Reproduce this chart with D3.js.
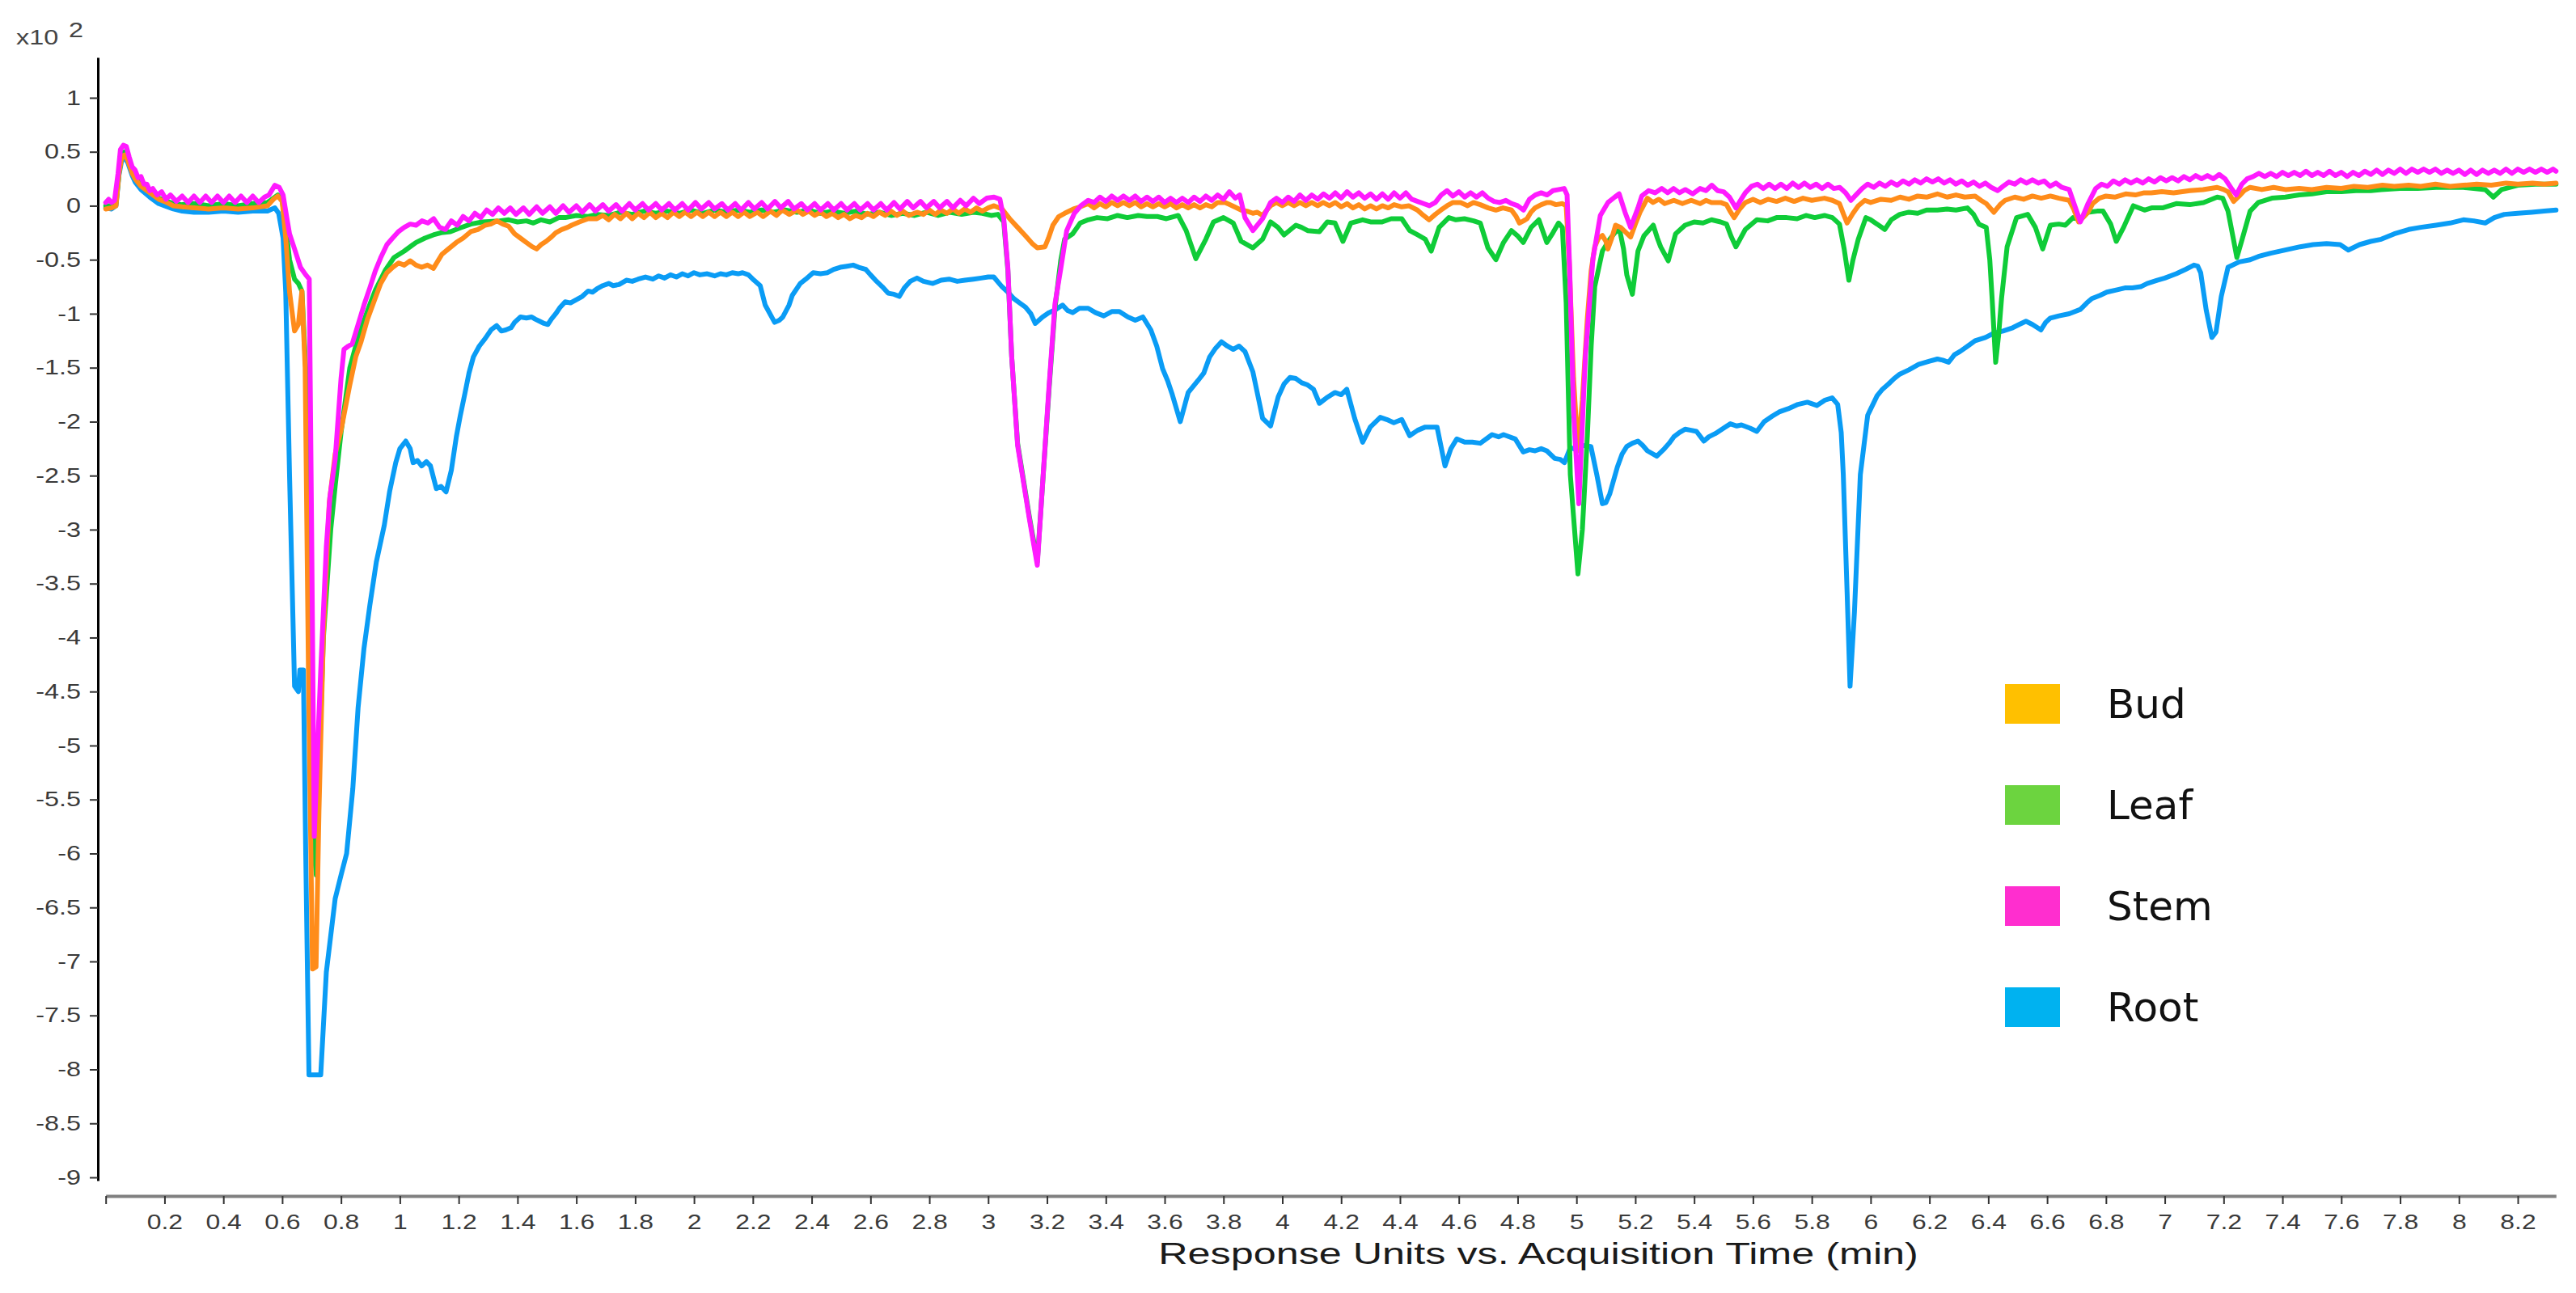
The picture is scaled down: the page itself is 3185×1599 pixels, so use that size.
<!DOCTYPE html>
<html><head><meta charset="utf-8">
<script src="https://cdn.jsdelivr.net/npm/d3@7"></script>
<style>html,body{margin:0;padding:0;background:#fff;} svg{display:block;}</style>
</head><body>
<svg id="chart" width="3185" height="1599"></svg>
<script>
// ---------- data (values in units of x10^2) ----------
const seriesNames = ["Bud", "Leaf", "Stem", "Root"];
const xTickValues = [0,0.2,0.4,0.6,0.8,1,1.2,1.4,1.6,1.8,2,2.2,2.4,2.6,2.8,3,3.2,3.4,3.6,3.8,4,4.2,4.4,4.6,4.8,5,5.2,5.4,5.6,5.8,6,6.2,6.4,6.6,6.8,7,7.2,7.4,7.6,7.8,8,8.2];
const yTickValues = [1,0.5,0,-0.5,-1,-1.5,-2,-2.5,-3,-3.5,-4,-4.5,-5,-5.5,-6,-6.5,-7,-7.5,-8,-8.5,-9];
const xTitle = "Response Units vs. Acquisition Time (min)";

const stemData = [[0,0.03],[0.01,0.06],[0.02,0.03],[0.03,0.05],[0.042,0.3],[0.05,0.52],[0.06,0.56],[0.07,0.55],[0.08,0.45],[0.09,0.36],[0.1,0.33],[0.11,0.26],[0.12,0.27],[0.13,0.2],[0.14,0.2],[0.15,0.14],[0.16,0.16],[0.175,0.1],[0.19,0.13],[0.205,0.06],[0.22,0.1],[0.24,0.04],[0.26,0.09],[0.28,0.03],[0.3,0.09],[0.32,0.03],[0.34,0.09],[0.36,0.03],[0.38,0.09],[0.4,0.03],[0.42,0.09],[0.44,0.03],[0.46,0.09],[0.48,0.03],[0.5,0.09],[0.52,0.03],[0.54,0.08],
[0.555,0.1],[0.575,0.19],[0.59,0.17],[0.603,0.1],[0.615,-0.1],[0.625,-0.26],[0.642,-0.4],[0.662,-0.57],[0.68,-0.64],[0.692,-0.68],[0.7,-3.0],[0.709,-5.84],[0.718,-5.2],[0.731,-4.3],[0.75,-3.16],[0.762,-2.7],[0.78,-2.35],[0.8,-1.6],[0.81,-1.33],[0.825,-1.3],[0.838,-1.28],[0.858,-1.1],[0.878,-0.92],[0.898,-0.76],[0.917,-0.6],[0.935,-0.48],[0.956,-0.36],[0.975,-0.3],[0.995,-0.24],[1.015,-0.2],[1.035,-0.17],[1.055,-0.18],[1.075,-0.14],[1.095,-0.16],[1.115,-0.12],[1.135,-0.2],[1.155,-0.22],[1.175,-0.14],[1.195,-0.18],[1.215,-0.1],[1.235,-0.14],[1.255,-0.07],[1.275,-0.11],[1.295,-0.04],[1.315,-0.08],[1.335,-0.02],[1.355,-0.07],
[1.375,-0.02],[1.395,-0.08],[1.42,-0.02],[1.44,-0.08],[1.465,-0.01],[1.485,-0.07],[1.51,-0.01],[1.53,-0.07],[1.555,0.0],[1.575,-0.06],[1.6,0.0],[1.62,-0.06],[1.645,0.01],[1.665,-0.05],[1.69,0.01],[1.71,-0.05],[1.735,0.01],[1.755,-0.05],[1.78,0.02],[1.8,-0.04],[1.825,0.02],[1.845,-0.04],[1.87,0.02],[1.89,-0.04],[1.915,0.02],[1.935,-0.04],[1.96,0.02],[1.98,-0.04],[2.005,0.03],[2.025,-0.03],[2.05,0.03],[2.07,-0.03],[2.095,0.02],[2.115,-0.04],[2.14,0.02],[2.16,-0.04],[2.185,0.03],[2.205,-0.03],[2.23,0.03],[2.25,-0.03],[2.275,0.04],[2.295,-0.02],[2.32,0.04],[2.34,-0.03],[2.365,0.02],[2.385,-0.04],[2.41,0.02],[2.43,-0.04],[2.455,0.02],[2.475,-0.04],[2.5,0.02],[2.52,-0.04],[2.545,0.02],[2.565,-0.04],[2.59,0.02],[2.61,-0.04],[2.635,0.02],[2.655,-0.04],[2.68,0.03],[2.7,-0.03],[2.725,0.04],[2.745,-0.02],[2.77,0.04],[2.79,-0.02],[2.815,0.04],[2.835,-0.02],[2.86,0.04],[2.88,-0.02],[2.905,0.05],[2.925,0.0],[2.95,0.07],[2.97,0.02],[2.995,0.07],
[3.02,0.08],[3.04,0.06],[3.053,-0.12],[3.067,-0.58],[3.08,-1.4],[3.1,-2.22],[3.14,-2.9],[3.167,-3.33],[3.187,-2.49],[3.207,-1.67],[3.227,-0.91],[3.247,-0.58],[3.267,-0.23],[3.293,-0.07],[3.315,0.0],[3.34,0.05],[3.36,0.03],[3.38,0.08],[3.4,0.04],[3.42,0.09],[3.44,0.05],[3.46,0.09],[3.48,0.05],[3.5,0.09],[3.52,0.04],[3.54,0.08],[3.56,0.04],[3.58,0.08],[3.6,0.03],[3.62,0.07],[3.64,0.03],[3.66,0.07],[3.68,0.03],[3.7,0.08],[3.72,0.04],[3.74,0.09],[3.76,0.05],[3.78,0.1],[3.8,0.06],[3.82,0.13],[3.84,0.07],[3.855,0.1],[3.873,-0.11],[3.9,-0.23],[3.933,-0.12],[3.96,0.03],
[3.98,0.07],[4.0,0.03],[4.02,0.08],[4.04,0.04],[4.06,0.1],[4.08,0.05],[4.1,0.1],[4.12,0.06],[4.14,0.11],[4.16,0.07],[4.18,0.12],[4.2,0.07],[4.22,0.13],[4.24,0.08],[4.26,0.12],[4.28,0.07],[4.3,0.11],[4.32,0.06],[4.34,0.11],[4.36,0.06],[4.38,0.12],[4.4,0.07],[4.42,0.12],[4.44,0.06],[4.46,0.04],[4.48,0.02],[4.5,0.0],[4.52,0.03],[4.54,0.1],[4.56,0.14],[4.58,0.09],[4.6,0.13],[4.62,0.08],[4.64,0.12],[4.66,0.08],[4.68,0.12],[4.7,0.07],[4.72,0.04],[4.74,0.03],[4.76,0.05],[4.78,0.02],[4.8,0.0],[4.82,-0.04],[4.84,0.06],[4.86,0.1],[4.88,0.12],[4.9,0.1],[4.92,0.14],[4.94,0.15],[4.958,0.16],
[4.968,0.1],[4.977,-0.6],[4.99,-1.9],[5.008,-2.76],[5.03,-1.4],[5.056,-0.49],[5.081,-0.09],[5.107,0.03],[5.13,0.08],[5.145,0.11],[5.165,-0.06],[5.184,-0.2],[5.209,-0.02],[5.222,0.09],[5.245,0.14],[5.267,0.12],[5.29,0.16],[5.31,0.12],[5.33,0.16],[5.35,0.12],[5.37,0.15],[5.395,0.11],[5.42,0.16],[5.44,0.14],[5.46,0.19],[5.48,0.14],[5.5,0.13],[5.52,0.08],[5.542,-0.02],[5.56,0.06],[5.574,0.12],[5.595,0.18],[5.615,0.2],[5.635,0.16],[5.655,0.2],[5.675,0.16],[5.695,0.2],[5.715,0.16],[5.735,0.21],[5.755,0.17],[5.775,0.21],[5.795,0.17],[5.815,0.2],[5.835,0.16],[5.855,0.2],[5.875,0.16],[5.895,0.17],[5.915,0.12],[5.933,0.05],[5.95,0.1],[5.971,0.16],[5.99,0.2],[6.01,0.17],[6.03,0.21],[6.05,0.18],[6.07,0.22],[6.09,0.19],[6.11,0.23],[6.13,0.2],[6.15,0.24],[6.17,0.21],[6.19,0.25],[6.21,0.22],[6.23,0.25],[6.25,0.21],[6.27,0.24],[6.29,0.2],[6.31,0.23],[6.33,0.19],[6.35,0.22],[6.37,0.18],[6.39,0.21],[6.41,0.17],[6.432,0.14],[6.45,0.18],[6.47,0.22],[6.49,0.2],[6.51,0.24],[6.53,0.21],[6.55,0.24],[6.57,0.21],[6.59,0.23],[6.61,0.18],[6.63,0.21],[6.65,0.17],[6.675,0.15],[6.694,0.0],[6.713,-0.15],[6.739,0.02],[6.765,0.16],[6.785,0.2],[6.805,0.18],[6.825,0.23],[6.845,0.2],[6.865,0.24],[6.885,0.21],[6.905,0.24],
[6.925,0.21],[6.945,0.25],[6.965,0.22],[6.985,0.26],[7.005,0.23],[7.025,0.26],[7.045,0.23],[7.065,0.27],[7.085,0.24],[7.105,0.28],[7.125,0.25],[7.145,0.28],[7.165,0.25],[7.185,0.29],[7.205,0.25],[7.229,0.15],[7.243,0.1],[7.262,0.2],[7.28,0.25],[7.3,0.27],[7.32,0.3],[7.34,0.27],[7.36,0.3],[7.38,0.27],[7.4,0.31],[7.42,0.28],[7.44,0.31],[7.46,0.28],[7.48,0.32],[7.5,0.28],[7.52,0.31],[7.54,0.28],[7.56,0.32],[7.58,0.28],[7.6,0.31],[7.62,0.27],[7.64,0.31],[7.66,0.28],[7.68,0.32],[7.7,0.29],[7.72,0.33],[7.74,0.29],[7.76,0.33],[7.78,0.3],[7.8,0.34],[7.82,0.3],[7.84,0.34],[7.86,0.31],[7.88,0.34],[7.9,0.31],[7.92,0.34],[7.94,0.3],[7.96,0.33],[7.98,0.3],[8.0,0.33],[8.02,0.29],[8.04,0.33],[8.06,0.29],[8.08,0.33],[8.1,0.3],[8.12,0.33],[8.14,0.3],[8.16,0.34],[8.18,0.3],[8.2,0.34],[8.22,0.31],[8.24,0.34],[8.26,0.31],[8.28,0.34],[8.3,0.31],[8.32,0.34],[8.33,0.32]];

const budData = [[0,-0.03],[0.02,-0.02],[0.035,0.0],[0.045,0.3],[0.055,0.46],[0.065,0.47],[0.075,0.42],[0.09,0.3],[0.1,0.25],[0.12,0.18],[0.15,0.12],[0.18,0.06],[0.2,0.04],[0.23,0.0],[0.26,-0.01],[0.3,-0.02],[0.35,-0.03],[0.4,-0.02],[0.45,-0.03],[0.5,-0.02],[0.55,0.0],[0.57,0.06],[0.585,0.09],[0.6,0.04],[0.612,-0.3],[0.625,-0.8],[0.642,-1.16],[0.655,-1.1],[0.667,-0.79],[0.678,-1.5],[0.69,-4.5],[0.703,-7.07],[0.715,-7.05],[0.725,-5.6],[0.74,-3.98],[0.76,-2.75],[0.78,-2.3],[0.8,-2.08],[0.829,-1.67],[0.85,-1.4],[0.868,-1.26],[0.89,-1.05],[0.917,-0.85],[0.935,-0.72],[0.956,-0.62],[0.976,-0.57],[0.996,-0.53],[1.015,-0.55],[1.035,-0.51],[1.055,-0.55],[1.074,-0.57],[1.094,-0.55],[1.114,-0.58],[1.143,-0.45],[1.165,-0.4],[1.192,-0.34],[1.215,-0.3],[1.241,-0.24],[1.265,-0.22],[1.29,-0.18],[1.309,-0.17],[1.33,-0.14],[1.35,-0.17],[1.37,-0.19],[1.39,-0.26],[1.41,-0.3],[1.43,-0.34],[1.45,-0.38],[1.465,-0.4],[1.48,-0.36],[1.497,-0.33],[1.515,-0.29],[1.53,-0.25],[1.55,-0.22],[1.57,-0.2],[1.584,-0.18],[1.61,-0.15],[1.64,-0.12],[1.67,-0.12],[1.69,-0.09],[1.71,-0.13],[1.73,-0.08],[1.75,-0.12],[1.77,-0.07],[1.79,-0.12],[1.81,-0.07],[1.83,-0.11],[1.85,-0.06],[1.87,-0.11],[1.89,-0.07],[1.91,-0.11],[1.93,-0.06],[1.95,-0.1],[1.97,-0.06],[1.99,-0.1],[2.01,-0.06],[2.03,-0.1],[2.05,-0.06],[2.07,-0.1],[2.09,-0.06],[2.11,-0.1],[2.13,-0.06],[2.15,-0.1],[2.17,-0.06],[2.19,-0.1],[2.215,-0.06],[2.235,-0.1],[2.26,-0.05],[2.28,-0.09],[2.3,-0.04],[2.324,-0.08],[2.35,-0.04],[2.37,-0.08],[2.39,-0.05],[2.41,-0.09],[2.43,-0.06],[2.45,-0.1],[2.47,-0.07],[2.49,-0.11],[2.51,-0.08],[2.53,-0.12],[2.55,-0.09],[2.57,-0.11],[2.59,-0.07],[2.61,-0.1],[2.63,-0.06],[2.65,-0.09],[2.67,-0.05],[2.69,-0.09],[2.71,-0.05],[2.73,-0.09],[2.758,-0.06],[2.78,-0.08],[2.8,-0.04],[2.82,-0.08],[2.84,-0.04],[2.86,-0.07],[2.88,-0.03],[2.9,-0.07],[2.92,-0.03],[2.94,-0.06],[2.96,-0.02],[2.98,-0.05],
[3.0,-0.02],[3.02,0.0],[3.047,-0.03],[3.073,-0.12],[3.1,-0.2],[3.127,-0.28],[3.15,-0.35],[3.167,-0.39],[3.193,-0.38],[3.205,-0.3],[3.22,-0.18],[3.24,-0.1],[3.26,-0.07],[3.29,-0.03],[3.313,-0.01],[3.34,0.02],[3.36,-0.02],[3.38,0.02],[3.4,-0.01],[3.42,0.03],[3.44,0.0],[3.46,0.03],[3.48,0.0],[3.5,0.03],[3.52,-0.01],[3.54,0.02],[3.56,-0.01],[3.58,0.02],[3.6,-0.01],[3.62,0.02],[3.64,-0.02],[3.66,0.01],[3.68,-0.02],[3.7,0.01],[3.72,-0.02],[3.74,0.01],[3.76,-0.01],[3.78,0.03],[3.806,0.03],[3.83,0.0],[3.86,-0.04],[3.88,-0.05],[3.9,-0.07],[3.915,-0.06],[3.933,-0.09],[3.947,-0.04],[3.96,0.0],[3.98,0.03],[4.0,0.0],[4.02,0.03],[4.04,0.0],[4.06,0.03],[4.08,0.0],[4.1,0.03],[4.12,0.0],[4.139,0.03],[4.16,0.0],[4.18,0.03],[4.2,-0.01],[4.22,0.02],[4.24,-0.02],[4.26,0.01],[4.28,-0.03],[4.3,0.0],[4.32,-0.03],[4.34,0.0],[4.36,-0.02],[4.38,0.01],[4.406,-0.01],[4.43,0.0],[4.459,-0.04],[4.48,-0.09],[4.499,-0.13],[4.52,-0.08],[4.539,-0.04],[4.56,0.0],[4.58,0.03],[4.606,0.03],[4.63,0.0],[4.65,0.03],[4.673,0.01],[4.7,-0.02],[4.726,-0.04],[4.75,-0.02],[4.779,-0.04],[4.795,-0.1],[4.806,-0.16],[4.82,-0.14],[4.832,-0.12],[4.845,-0.06],[4.859,-0.02],[4.88,0.01],[4.9,0.03],[4.912,0.03],[4.93,0.01],[4.952,0.02],
[4.965,0.0],[4.975,-0.5],[4.99,-1.6],[5.005,-2.27],[5.02,-1.8],[5.037,-1.04],[5.05,-0.6],[5.062,-0.38],[5.075,-0.3],[5.088,-0.275],[5.1,-0.33],[5.107,-0.4],[5.12,-0.3],[5.133,-0.18],[5.15,-0.2],[5.165,-0.24],[5.184,-0.29],[5.2,-0.17],[5.216,-0.06],[5.241,0.07],[5.26,0.03],[5.28,0.06],[5.3,0.02],[5.331,0.05],[5.36,0.02],[5.39,0.05],[5.42,0.02],[5.44,0.05],[5.459,0.03],[5.49,0.03],[5.51,0.01],[5.522,-0.05],[5.536,-0.11],[5.555,-0.03],[5.574,0.03],[5.6,0.06],[5.625,0.03],[5.651,0.06],[5.68,0.04],[5.71,0.07],[5.74,0.04],[5.77,0.07],[5.8,0.05],[5.843,0.07],[5.87,0.05],[5.894,0.02],[5.908,-0.08],[5.92,-0.16],[5.94,-0.07],[5.958,0.0],[5.98,0.05],[6.0,0.03],[6.035,0.06],[6.07,0.05],[6.1,0.08],[6.13,0.06],[6.16,0.09],[6.19,0.08],[6.227,0.11],[6.26,0.08],[6.29,0.1],[6.32,0.08],[6.355,0.09],[6.375,0.05],[6.393,0.02],[6.419,-0.06],[6.44,0.01],[6.457,0.05],[6.49,0.08],[6.52,0.06],[6.55,0.09],[6.58,0.07],[6.611,0.09],[6.64,0.07],[6.675,0.05],[6.69,-0.03],[6.707,-0.15],[6.725,-0.1],[6.739,-0.06],[6.755,0.02],[6.777,0.07],[6.8,0.09],[6.83,0.08],[6.867,0.11],[6.9,0.1],[6.93,0.12],[6.954,0.12],
[6.99,0.13],[7.03,0.12],[7.085,0.14],[7.13,0.15],[7.178,0.17],[7.2,0.15],[7.215,0.13],[7.234,0.04],[7.253,0.09],[7.27,0.14],[7.29,0.17],[7.33,0.15],[7.37,0.17],[7.41,0.15],[7.457,0.16],[7.5,0.15],[7.55,0.17],[7.6,0.16],[7.643,0.18],[7.69,0.17],[7.74,0.19],[7.78,0.18],[7.829,0.19],[7.87,0.18],[7.92,0.2],[7.97,0.18],[8.015,0.19],[8.06,0.2],[8.11,0.19],[8.16,0.21],[8.2,0.2],[8.25,0.21],[8.29,0.2],[8.33,0.21]];

const leafData = [[0,0.0],[0.02,0.0],[0.035,0.02],[0.045,0.3],[0.055,0.48],[0.065,0.5],[0.075,0.45],[0.09,0.32],[0.1,0.27],[0.12,0.2],[0.15,0.13],[0.18,0.07],[0.2,0.05],[0.23,0.02],[0.26,0.01],[0.3,0.02],[0.35,0.0],[0.4,0.02],[0.45,0.0],[0.5,0.02],[0.55,0.03],[0.57,0.07],[0.585,0.1],[0.6,0.05],[0.612,-0.2],[0.625,-0.5],[0.642,-0.68],[0.655,-0.72],[0.667,-0.79],[0.68,-1.5],[0.692,-4.0],[0.706,-5.9],[0.716,-6.2],[0.728,-5.0],[0.74,-4.0],[0.75,-3.6],[0.765,-3.0],[0.78,-2.6],[0.8,-2.1],[0.83,-1.5],[0.86,-1.2],[0.9,-0.9],[0.917,-0.78],[0.95,-0.6],[0.98,-0.48],[1.015,-0.42],[1.055,-0.34],[1.085,-0.3],[1.114,-0.27],[1.14,-0.25],[1.172,-0.24],[1.2,-0.21],[1.241,-0.17],[1.28,-0.15],[1.339,-0.14],[1.37,-0.13],[1.4,-0.15],[1.43,-0.14],[1.454,-0.16],[1.48,-0.13],[1.51,-0.15],[1.54,-0.11],[1.562,-0.11],[1.6,-0.09],[1.64,-0.1],[1.671,-0.08],[1.71,-0.09],[1.75,-0.06],[1.79,-0.08],[1.83,-0.05],[1.87,-0.07],[1.91,-0.05],[1.95,-0.07],[1.99,-0.04],[2.03,-0.07],[2.07,-0.04],[2.11,-0.06],[2.15,-0.04],[2.19,-0.06],[2.23,-0.04],[2.27,-0.06],[2.31,-0.04],[2.35,-0.06],[2.39,-0.04],[2.43,-0.07],[2.47,-0.05],[2.51,-0.07],[2.55,-0.05],[2.59,-0.08],[2.63,-0.06],[2.67,-0.09],[2.71,-0.07],[2.75,-0.09],[2.79,-0.06],[2.83,-0.09],[2.87,-0.06],[2.91,-0.08],[2.95,-0.06],
[2.98,-0.07],[3.01,-0.09],[3.033,-0.08],[3.053,-0.15],[3.067,-0.6],[3.08,-1.4],[3.1,-2.2],[3.14,-2.88],[3.167,-3.3],[3.187,-2.5],[3.207,-1.7],[3.227,-0.95],[3.247,-0.5],[3.26,-0.31],[3.287,-0.26],[3.313,-0.16],[3.34,-0.13],[3.37,-0.11],[3.406,-0.12],[3.44,-0.09],[3.473,-0.11],[3.51,-0.09],[3.54,-0.1],[3.575,-0.1],[3.606,-0.12],[3.646,-0.09],[3.673,-0.23],[3.706,-0.49],[3.74,-0.31],[3.766,-0.15],[3.8,-0.11],[3.833,-0.16],[3.86,-0.33],[3.9,-0.39],[3.933,-0.31],[3.96,-0.15],[3.985,-0.2],[4.006,-0.27],[4.046,-0.18],[4.065,-0.2],[4.086,-0.23],[4.126,-0.24],[4.153,-0.15],[4.179,-0.16],[4.206,-0.33],[4.233,-0.16],[4.273,-0.13],[4.3,-0.15],[4.339,-0.15],[4.37,-0.12],[4.406,-0.12],[4.433,-0.23],[4.46,-0.27],[4.486,-0.31],[4.506,-0.42],[4.533,-0.2],[4.566,-0.11],[4.59,-0.13],[4.619,-0.12],[4.65,-0.14],[4.673,-0.16],[4.699,-0.39],[4.726,-0.5],[4.752,-0.34],[4.779,-0.23],[4.8,-0.28],[4.819,-0.34],[4.846,-0.2],[4.872,-0.13],[4.899,-0.34],[4.92,-0.25],[4.939,-0.16],[4.952,-0.2],
[4.965,-0.9],[4.979,-2.49],[5.005,-3.41],[5.02,-3.0],[5.037,-2.13],[5.05,-1.3],[5.062,-0.75],[5.088,-0.42],[5.113,-0.31],[5.145,-0.2],[5.16,-0.4],[5.171,-0.64],[5.19,-0.82],[5.209,-0.42],[5.229,-0.28],[5.261,-0.18],[5.275,-0.3],[5.286,-0.38],[5.312,-0.51],[5.337,-0.26],[5.369,-0.18],[5.4,-0.15],[5.43,-0.16],[5.459,-0.13],[5.49,-0.15],[5.51,-0.17],[5.525,-0.28],[5.542,-0.38],[5.574,-0.22],[5.613,-0.13],[5.65,-0.14],[5.68,-0.11],[5.715,-0.11],[5.75,-0.12],[5.78,-0.09],[5.81,-0.11],[5.843,-0.09],[5.87,-0.11],[5.894,-0.17],[5.91,-0.4],[5.926,-0.69],[5.94,-0.5],[5.958,-0.31],[5.984,-0.11],[6.0,-0.13],[6.022,-0.17],[6.048,-0.22],[6.07,-0.13],[6.099,-0.08],[6.13,-0.06],[6.16,-0.07],[6.19,-0.04],[6.227,-0.04],[6.26,-0.03],[6.29,-0.04],[6.329,-0.02],[6.35,-0.08],[6.368,-0.17],[6.393,-0.2],[6.405,-0.5],[6.413,-0.86],[6.425,-1.45],[6.435,-1.2],[6.445,-0.86],[6.464,-0.38],[6.496,-0.11],[6.534,-0.08],[6.56,-0.2],[6.585,-0.4],[6.611,-0.18],[6.64,-0.17],[6.662,-0.18],[6.688,-0.11],[6.713,-0.13],[6.739,-0.06],[6.77,-0.05],[6.79,-0.05],[6.816,-0.17],[6.835,-0.33],[6.86,-0.2],[6.893,0.0],[6.931,-0.04],
[6.955,-0.02],[6.992,-0.02],[7.039,0.02],[7.085,0.01],[7.132,0.03],[7.178,0.08],[7.197,0.07],[7.215,-0.05],[7.234,-0.32],[7.245,-0.48],[7.262,-0.32],[7.29,-0.05],[7.318,0.03],[7.364,0.07],[7.41,0.08],[7.457,0.1],[7.5,0.11],[7.55,0.13],[7.6,0.13],[7.65,0.14],[7.7,0.14],[7.736,0.15],[7.8,0.16],[7.86,0.16],[7.922,0.17],[7.97,0.17],[8.015,0.17],[8.05,0.16],[8.089,0.15],[8.117,0.08],[8.145,0.15],[8.2,0.19],[8.26,0.2],[8.33,0.2]];

const rootData = [[0,-0.02],[0.02,-0.03],[0.035,0.0],[0.045,0.28],[0.055,0.43],[0.065,0.44],[0.075,0.4],[0.09,0.28],[0.1,0.22],[0.12,0.15],[0.15,0.08],[0.18,0.02],[0.2,0.0],[0.23,-0.03],[0.26,-0.05],[0.3,-0.06],[0.35,-0.06],[0.4,-0.05],[0.45,-0.06],[0.5,-0.05],[0.55,-0.05],[0.575,-0.02],[0.588,-0.07],[0.603,-0.3],[0.612,-0.8],[0.625,-2.5],[0.642,-4.45],[0.655,-4.5],[0.66,-4.3],[0.672,-4.3],[0.68,-6.0],[0.691,-8.05],[0.731,-8.05],[0.75,-7.1],[0.78,-6.42],[0.8,-6.2],[0.819,-6.0],[0.84,-5.4],[0.858,-4.65],[0.878,-4.1],[0.898,-3.7],[0.92,-3.3],[0.947,-2.96],[0.965,-2.65],[0.986,-2.38],[1.0,-2.25],[1.02,-2.18],[1.035,-2.25],[1.045,-2.38],[1.06,-2.36],[1.074,-2.41],[1.09,-2.37],[1.104,-2.41],[1.124,-2.62],[1.14,-2.6],[1.157,-2.65],[1.175,-2.45],[1.192,-2.14],[1.205,-1.95],[1.221,-1.74],[1.235,-1.55],[1.25,-1.4],[1.27,-1.3],[1.29,-1.23],[1.31,-1.15],[1.329,-1.11],[1.345,-1.16],[1.36,-1.15],[1.378,-1.13],[1.39,-1.08],[1.41,-1.03],[1.43,-1.04],[1.448,-1.03],[1.46,-1.05],[1.475,-1.07],[1.49,-1.09],[1.503,-1.1],[1.515,-1.05],[1.53,-1.0],[1.545,-0.94],[1.562,-0.89],[1.58,-0.9],[1.6,-0.87],[1.62,-0.84],[1.64,-0.79],[1.655,-0.8],[1.67,-0.77],[1.69,-0.74],[1.71,-0.72],[1.725,-0.74],[1.745,-0.73],[1.77,-0.69],[1.79,-0.7],[1.81,-0.68],[1.835,-0.66],[1.86,-0.68],[1.88,-0.65],[1.9,-0.67],[1.92,-0.64],[1.94,-0.66],[1.96,-0.63],[1.98,-0.65],[2.0,-0.62],[2.02,-0.64],[2.045,-0.63],[2.07,-0.65],[2.09,-0.63],[2.11,-0.64],[2.13,-0.62],[2.15,-0.63],[2.165,-0.62],[2.185,-0.64],
[2.204,-0.69],[2.225,-0.74],[2.242,-0.92],[2.274,-1.08],[2.29,-1.06],[2.302,-1.03],[2.323,-0.92],[2.334,-0.83],[2.361,-0.72],[2.38,-0.68],[2.405,-0.62],[2.43,-0.63],[2.454,-0.62],[2.475,-0.59],[2.497,-0.57],[2.52,-0.56],[2.541,-0.55],[2.56,-0.57],[2.584,-0.59],[2.6,-0.64],[2.617,-0.69],[2.64,-0.75],[2.66,-0.81],[2.68,-0.82],[2.698,-0.84],[2.715,-0.76],[2.735,-0.7],[2.758,-0.67],[2.78,-0.7],[2.812,-0.72],[2.84,-0.69],[2.867,-0.68],[2.895,-0.7],[2.921,-0.69],[2.95,-0.68],[2.976,-0.67],[3.0,-0.66],[3.019,-0.66],
[3.047,-0.75],[3.067,-0.8],[3.087,-0.86],[3.107,-0.9],[3.127,-0.94],[3.145,-1.0],[3.16,-1.09],[3.185,-1.03],[3.207,-0.99],[3.23,-0.96],[3.253,-0.92],[3.27,-0.97],[3.287,-0.99],[3.31,-0.95],[3.34,-0.95],[3.365,-0.99],[3.393,-1.02],[3.42,-0.98],[3.446,-0.98],[3.475,-1.03],[3.5,-1.06],[3.526,-1.03],[3.553,-1.15],[3.573,-1.3],[3.593,-1.51],[3.61,-1.62],[3.626,-1.75],[3.653,-2.0],[3.668,-1.85],[3.68,-1.73],[3.713,-1.62],[3.733,-1.55],[3.753,-1.4],[3.773,-1.32],[3.793,-1.26],[3.813,-1.3],[3.833,-1.33],[3.853,-1.3],[3.873,-1.35],[3.9,-1.54],[3.92,-1.8],[3.933,-1.97],[3.96,-2.04],[3.986,-1.77],[4.006,-1.65],[4.026,-1.59],[4.046,-1.6],[4.066,-1.64],[4.086,-1.66],[4.106,-1.7],[4.126,-1.83],[4.15,-1.78],[4.179,-1.73],[4.2,-1.75],[4.219,-1.7],[4.246,-1.97],[4.273,-2.19],[4.299,-2.05],[4.333,-1.96],[4.355,-1.98],[4.379,-2.01],[4.406,-1.98],[4.433,-2.13],[4.46,-2.08],[4.486,-2.05],[4.526,-2.05],[4.553,-2.41],[4.573,-2.25],[4.593,-2.16],[4.62,-2.19],[4.646,-2.19],[4.673,-2.2],[4.713,-2.12],[4.735,-2.14],[4.752,-2.12],[4.792,-2.16],[4.819,-2.28],[4.84,-2.26],[4.859,-2.27],[4.88,-2.25],[4.899,-2.27],[4.926,-2.34],[4.945,-2.35],[4.959,-2.38],[4.979,-2.24],
[5.0,-2.26],[5.02,-2.22],[5.049,-2.23],[5.069,-2.49],[5.088,-2.76],[5.1,-2.75],[5.113,-2.67],[5.139,-2.42],[5.155,-2.3],[5.171,-2.23],[5.19,-2.2],[5.209,-2.18],[5.225,-2.22],[5.241,-2.27],[5.273,-2.32],[5.299,-2.25],[5.315,-2.2],[5.331,-2.14],[5.35,-2.1],[5.369,-2.07],[5.39,-2.08],[5.408,-2.09],[5.433,-2.18],[5.45,-2.14],[5.472,-2.11],[5.5,-2.06],[5.523,-2.02],[5.545,-2.04],[5.561,-2.03],[5.59,-2.06],[5.613,-2.09],[5.638,-2.0],[5.665,-1.95],[5.689,-1.91],[5.72,-1.88],[5.753,-1.84],[5.785,-1.82],[5.817,-1.85],[5.845,-1.8],[5.869,-1.78],[5.888,-1.84],[5.9,-2.1],[5.907,-2.49],[5.92,-3.58],[5.93,-4.45],[5.945,-3.76],[5.965,-2.49],[5.99,-1.94],[6.022,-1.76],[6.04,-1.7],[6.061,-1.65],[6.08,-1.6],[6.099,-1.56],[6.13,-1.52],[6.163,-1.47],[6.2,-1.44],[6.227,-1.42],[6.245,-1.43],[6.265,-1.45],[6.285,-1.38],[6.304,-1.35],[6.33,-1.3],[6.355,-1.25],[6.39,-1.22],[6.419,-1.18],[6.45,-1.16],[6.483,-1.13],[6.505,-1.1],[6.528,-1.07],[6.55,-1.1],[6.579,-1.15],[6.595,-1.08],[6.611,-1.04],[6.64,-1.02],[6.675,-1.0],[6.713,-0.96],[6.735,-0.9],[6.752,-0.86],[6.78,-0.83],[6.803,-0.8],[6.835,-0.78],[6.867,-0.76],[6.89,-0.76],[6.918,-0.75],
[6.94,-0.72],[6.974,-0.69],[7.0,-0.67],[7.039,-0.63],[7.07,-0.59],[7.099,-0.55],[7.112,-0.56],[7.122,-0.62],[7.141,-0.97],[7.16,-1.22],[7.174,-1.17],[7.192,-0.84],[7.215,-0.57],[7.253,-0.52],[7.29,-0.5],[7.318,-0.47],[7.36,-0.44],[7.41,-0.41],[7.46,-0.38],[7.504,-0.36],[7.55,-0.35],[7.596,-0.36],[7.624,-0.41],[7.662,-0.36],[7.7,-0.33],[7.736,-0.31],[7.78,-0.26],[7.829,-0.22],[7.87,-0.2],[7.922,-0.18],[7.97,-0.16],[8.015,-0.13],[8.05,-0.14],[8.089,-0.16],[8.12,-0.11],[8.154,-0.08],[8.2,-0.07],[8.247,-0.06],[8.29,-0.05],[8.33,-0.04]];

const lineColors = {Bud: "#ff8c1a", Leaf: "#0fcc38", Stem: "#ff1aff", Root: "#0a9cf5"};
const legendColors = {Bud: "#ffc000", Leaf: "#6cd43f", Stem: "#ff2ecf", Root: "#00b2f0"};
const seriesData = {Bud: budData, Leaf: leafData, Stem: stemData, Root: rootData};
const drawOrder = ["Root", "Leaf", "Bud", "Stem"];

// ---------- layout ----------
const svg = d3.select("#chart");
const x = d3.scaleLinear().domain([0, 8.33]).range([130.7, 3160.3]);
const y = d3.scaleLinear().domain([-9.03, 1.374]).range([1460, 71]);
const tickFont = "'Liberation Sans', Arial, sans-serif";

// y axis
const yAxis = d3.axisLeft(y).tickValues(yTickValues).tickSize(10).tickSizeOuter(0).tickPadding(11)
  .tickFormat(d => String(d));
const gy = svg.append("g").attr("transform", "translate(121,0)").call(yAxis);
gy.select(".domain").attr("stroke", "#000").attr("stroke-width", 3);
gy.selectAll(".tick line").attr("stroke", "#333").attr("stroke-width", 2);
gy.selectAll(".tick text").attr("x", 0).attr("transform", "translate(-21,0) scale(1.27,1)")
  .attr("fill", "#3a3a3a").style("font-family", tickFont).style("font-size", "25.5px");

// x axis
const xAxis = d3.axisBottom(x).tickValues(xTickValues).tickSize(10).tickSizeOuter(0).tickPadding(13)
  .tickFormat(d => d === 0 ? "" : String(d));
const gx = svg.append("g").attr("transform", "translate(0,1479)").call(xAxis);
gx.select(".domain").attr("stroke", "#808080").attr("stroke-width", 4);
gx.selectAll(".tick line").attr("stroke", "#333").attr("stroke-width", 2);
gx.selectAll(".tick text").attr("transform", "scale(1.25,1)")
  .attr("fill", "#3a3a3a").style("font-family", tickFont).style("font-size", "25.5px");

// exponent label
const expG = svg.append("g").style("font-family", tickFont).attr("fill", "#444");
expG.append("text").attr("transform", "translate(20,55) scale(1.27,1)").style("font-size", "25.5px").text("x10");
expG.append("text").attr("transform", "translate(85,46) scale(1.27,1)").style("font-size", "25.5px").text("2");

// x title
const titleG = svg.append("g");
const titleText = titleG.append("text").attr("text-anchor", "middle")
  .style("font-family", tickFont).style("font-size", "37px").attr("fill", "#1a1a1a").text(xTitle);
const natural = titleText.node().getComputedTextLength();
titleG.attr("transform", `translate(1902,1563) scale(${940 / natural},1)`);

// lines
const line = d3.line().x(d => x(d[0])).y(d => y(d[1])).curve(d3.curveLinear);
svg.append("g").selectAll("path").data(drawOrder).join("path")
  .attr("d", k => line(seriesData[k]))
  .attr("fill", "none")
  .attr("stroke", k => lineColors[k])
  .attr("stroke-width", 6)
  .attr("stroke-linejoin", "round")
  .attr("stroke-linecap", "round");

// legend
const legend = svg.append("g").attr("transform", "translate(2479,846)");
const li = legend.selectAll("g").data(seriesNames).join("g")
  .attr("transform", (d, i) => `translate(0,${i * 125})`);
li.append("rect").attr("width", 68).attr("height", 49).attr("fill", d => legendColors[d]);
li.append("text").attr("x", 126).attr("y", 42)
  .style("font-family", "'DejaVu Sans', Verdana, sans-serif").style("font-size", "50px")
  .attr("fill", "#111").text(d => d);
</script>
</body></html>
